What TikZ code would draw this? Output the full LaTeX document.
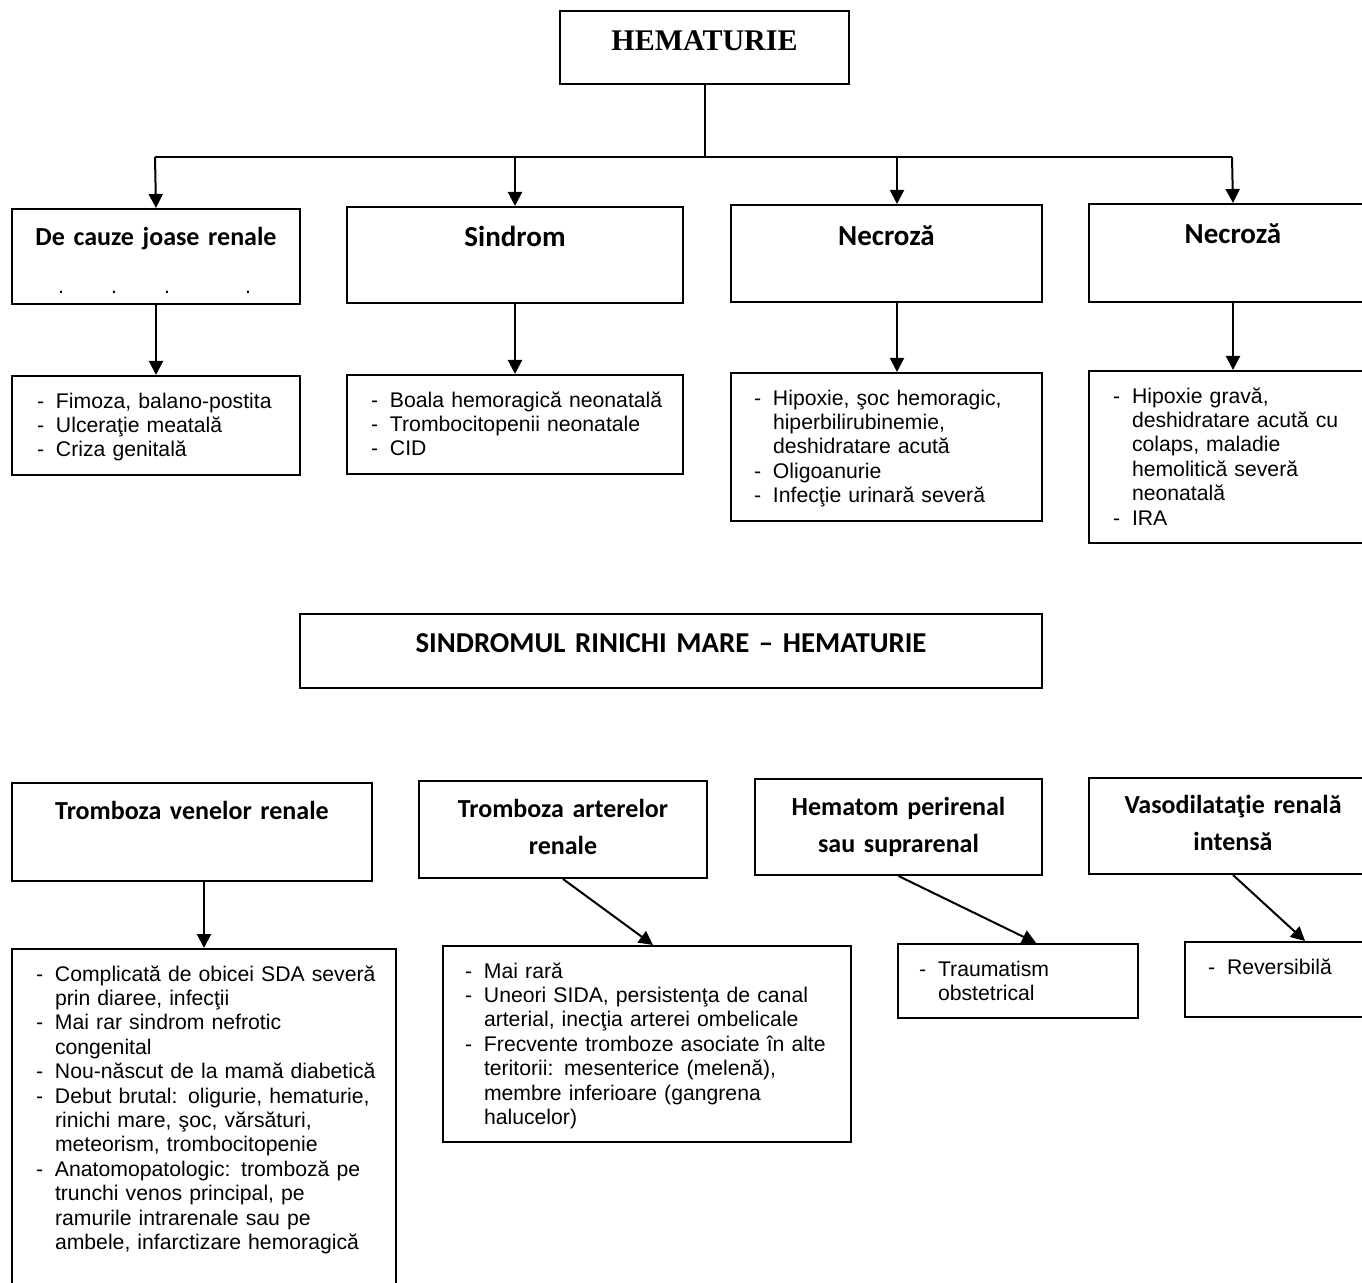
\documentclass[tikz,border=0pt]{standalone}
\usepackage{fontspec}
\setmainfont{Liberation Sans}
\newfontfamily\calibri{Carlito}
\newfontfamily\timesfont{Liberation Serif}
\usetikzlibrary{calc, positioning, arrows.meta}

% dash lists in the lower boxes
\newenvironment{dashes}{\begin{tabular}[t]{@{}l@{}}}{\end{tabular}}
\newcommand{\dl}{\makebox[9.5pt][l]{-}}
\newcommand{\cl}{\hspace*{9.5pt}}

\begin{document}
\begin{tikzpicture}[
  x=0.5pt, y=-0.5pt,
  line width=1pt,
  head/.style={draw, anchor=north west, inner sep=0pt, align=center,
    font=\calibri\bfseries\fontsize{13}{18.5}\selectfont},
  bighead/.style={head, font=\calibri\bfseries\fontsize{14.5}{18.5}\selectfont},
  items/.style={draw, anchor=north west, inner ysep=5.25pt, text height=10.8pt, align=left,
    font=\fontsize{10.6}{12.2}\selectfont},
  >={Triangle[length=7pt, width=7pt]}
]
  \useasboundingbox (0,0) rectangle (1362,1283);
  \clip (0,0) rectangle (1362,1283);

  % --- Top: HEMATURIE ---
  \node[head, text width=144.5pt, text height=19.95pt, text depth=16.55pt,
    font=\timesfont\bfseries\fontsize{15}{17}\selectfont] (hem) at (559,10) {HEMATURIE};
  \coordinate (busL) at (155,157);
  \coordinate (busR) at (1232,157);
  \coordinate (tapC) at (897,157);

  \node[head, text width=144pt, text height=18.2pt, text depth=29.3pt] (joase) at (11,208)
    {De cauze joase renale\\[5.8pt]{\normalfont\fontsize{10.6}{12}\selectfont\makebox[144pt][l]{%
      \hspace{24.5pt}\makebox[0pt]{.}\hspace{26.5pt}\makebox[0pt]{.}%
      \hspace{26.5pt}\makebox[0pt]{.}\hspace{40.5pt}\makebox[0pt]{.}}}};
  \node[bighead, text width=168pt, text height=19.65pt, text depth=28.35pt] (sindrom) at (346,206) {Sindrom};
  \node[bighead, text width=155.5pt, text height=20.15pt, text depth=28.35pt] (necA) at (730,204) {Necroză};
  \node[bighead, text width=144pt, text height=19.65pt, text depth=29.35pt] (necB) at (1088,203) {Necroză};

  \node[items, inner xsep=12.5pt, text width=119pt] (joaseL) at (11,375)
    {\begin{dashes}\dl Fimoza, balano-postita\\ \dl Ulceraţie meatală\\ \dl Criza genitală\end{dashes}};
  \node[items, inner xsep=12pt, text width=144pt] (sindromL) at (346,374)
    {\begin{dashes}\dl Boala hemoragică neonatală\\ \dl Trombocitopenii neonatale\\ \dl CID\end{dashes}};
  \node[items, inner xsep=11.5pt, text width=132.5pt] (necAL) at (730,372)
    {\begin{dashes}\dl Hipoxie, şoc hemoragic,\\ \cl hiperbilirubinemie,\\ \cl deshidratare acută\\
     \dl Oligoanurie\\ \dl Infecţie urinară severă\end{dashes}};
  \node[items, inner xsep=12pt, text width=120pt] (necBL) at (1088,370)
    {\begin{dashes}\dl Hipoxie gravă,\\ \cl deshidratare acută cu\\ \cl colaps, maladie\\
     \cl hemolitică severă\\ \cl neonatală\\ \dl IRA\end{dashes}};

  \draw (hem.south) -- (hem.south |- busL);
  \draw (busL) -- (busR);
  \draw[->] (busL) -- (joase.north);
  \draw[->] (sindrom.north |- busL) -- (sindrom.north);
  \draw[->] (tapC) -- (tapC |- necA.north);
  \draw[->] (busR) -- (necB.north);
  \draw[->] (joase) -- (joaseL);
  \draw[->] (sindrom) -- (sindromL);
  \draw[->] (tapC |- necA.south) -- (tapC |- necAL.north);
  \draw[->] (necB) -- (necBL);

  % --- Middle title ---
  \node[head, text width=371pt, text height=19.15pt, text depth=17.85pt,
    font=\calibri\bfseries\fontsize{14.4}{18.5}\selectfont] (rinichi) at (299,613)
    {SINDROMUL RINICHI MARE – HEMATURIE};

  % --- Bottom row ---
  \node[head, text width=180pt, text height=18.2pt, text depth=30.8pt] (venE) at (11,782) {Tromboza venelor renale};
  \node[head, text width=144pt, text height=18.2pt, text depth=30.3pt] (artF) at (418,780) {Tromboza arterelor\\renale};
  \node[head, text width=143.5pt, text height=18.2pt, text depth=29.8pt] (hemG) at (754,778) {Hematom perirenal\\sau suprarenal};
  \node[head, text width=144pt, text height=17.7pt, text depth=30.3pt] (vasH) at (1088,777) {Vasodilataţie renală\\intensă};

  \node[items, inner xsep=12pt, text width=168pt, text depth=150pt] (venL) at (11,948)
    {\begin{dashes}\dl Complicată de obicei SDA severă\\ \cl prin diaree, infecţii\\
     \dl Mai rar sindrom nefrotic\\ \cl congenital\\
     \dl Nou-născut de la mamă diabetică\\
     \dl Debut brutal: oligurie, hematurie,\\ \cl rinichi mare, şoc, vărsături,\\ \cl meteorism, trombocitopenie\\
     \dl Anatomopatologic: tromboză pe\\ \cl trunchi venos principal, pe\\ \cl ramurile intrarenale sau pe\\
     \cl ambele, infarctizare hemoragică\end{dashes}};
  \node[items, inner xsep=11pt, text width=182pt] (artL) at (442,945)
    {\begin{dashes}\dl Mai rară\\
     \dl Uneori SIDA, persistenţa de canal\\ \cl arterial, inecţia arterei ombelicale\\
     \dl Frecvente tromboze asociate în alte\\ \cl teritorii: mesenterice (melenă),\\
     \cl membre inferioare (gangrena\\ \cl halucelor)\end{dashes}};
  \node[items, inner xsep=10.5pt, text width=99pt] (hemL) at (897,943)
    {\begin{dashes}\dl Traumatism\\ \cl obstetrical\end{dashes}};
  \node[items, inner xsep=11.5pt, text width=97pt, text depth=16.2pt] (vasL) at (1184,941)
    {\begin{dashes}\dl Reversibilă\end{dashes}};

  \draw[->] (venL.north |- venE.south) -- (venL.north);
  \draw[->] (artF.south) -- ($(artL.north)+(6,0)$);
  \draw[->] (hemG.south) -- ($(hemL.north west)!0.575!(hemL.north east)$);
  \draw[->] (vasH.south) -- (vasL.north);
\end{tikzpicture}
\end{document}
